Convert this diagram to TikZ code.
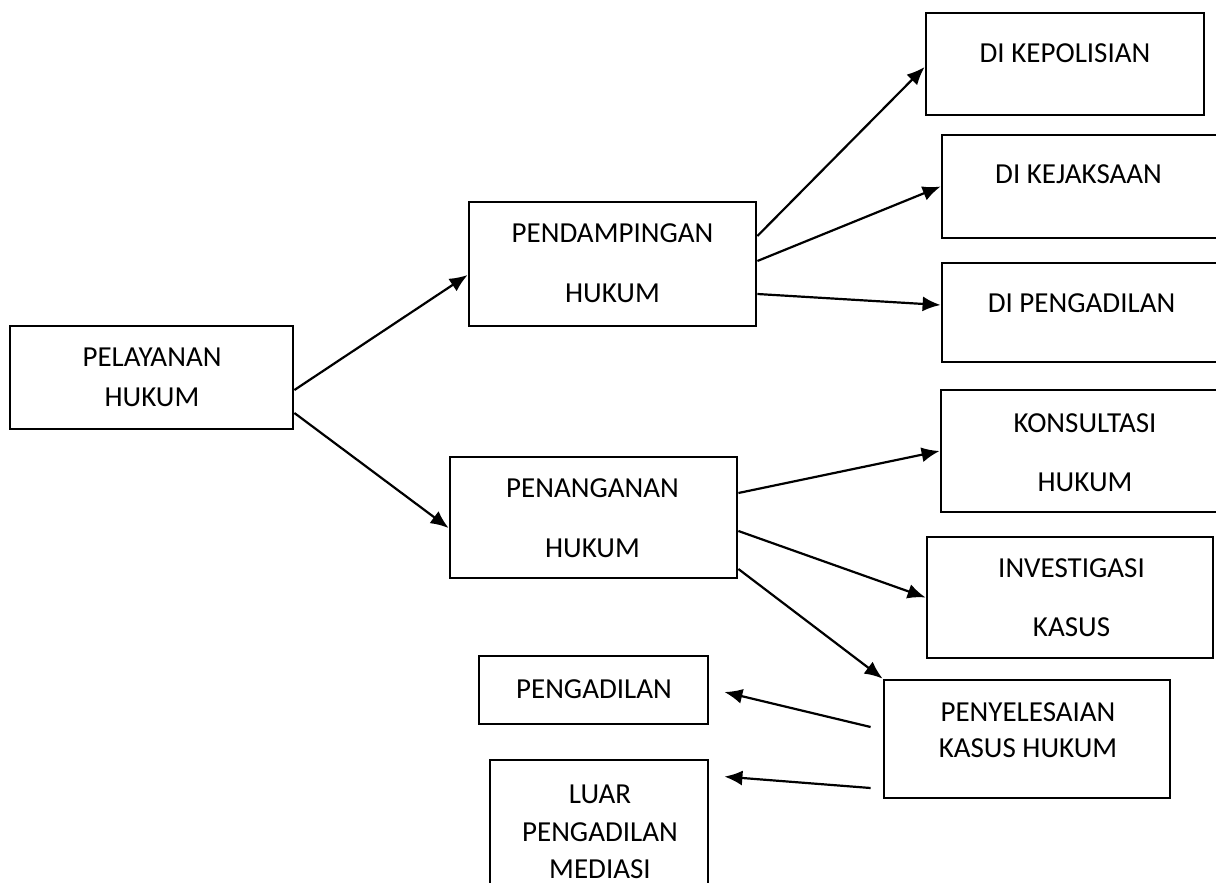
\documentclass[tikz,border=0pt]{standalone}
\usepackage{fontspec}
\setmainfont{Carlito}
\usepackage{tikz}
\usetikzlibrary{arrows.meta}
\tikzstyle{kotak} = [draw, rectangle, line width=1.4pt, inner sep=0pt]
\tikzstyle{teks} = [align=center, inner sep=0pt, font=\fontsize{14.5}{16}\selectfont]

\begin{document}
\begin{tikzpicture}[x=0.5pt,y=-0.5pt,line width=1.1pt,>={Latex[length=9pt,width=7.5pt]}]
    \useasboundingbox (0,0) rectangle (1216,883);
    % kotak
    \node[kotak, minimum width=141.5pt, minimum height=51.5pt] (pelayanan) at (151.5,377.5) {};
    \node[kotak, minimum width=143.5pt, minimum height=62pt] (pendampingan) at (612.5,264) {};
    \node[kotak, minimum width=139pt, minimum height=51pt] (polisi) at (1065,64) {};
    \node[kotak, minimum width=141.5pt, minimum height=51.5pt] (jaksa) at (1083.5,186.5) {};
    \node[kotak, minimum width=141.5pt, minimum height=49.5pt] (sidang) at (1083.5,312.5) {};
    \node[kotak, minimum width=143.5pt, minimum height=60.5pt] (penanganan) at (593.5,517.5) {};
    \node[kotak, minimum width=142pt, minimum height=61pt] (konsultasi) at (1083,451) {};
    \node[kotak, minimum width=143pt, minimum height=60.5pt] (investigasi) at (1070,597.5) {};
    \node[kotak, minimum width=143pt, minimum height=59pt] (selesai) at (1027,739) {};
    \node[kotak, minimum width=114.5pt, minimum height=34pt] (pengadilan) at (593.5,690) {};
    \node[kotak, minimum width=109pt, minimum height=75pt] (luar) at (599,835) {};
    % teks
    \node[teks] (pelayananT) at (152,377) {PELAYANAN\\[4pt]HUKUM};
    \node[teks] (pendampinganT) at (612.5,263) {PENDAMPINGAN\\[14pt]HUKUM};
    \node[teks] (polisiT) at (1065,53) {DI KEPOLISIAN};
    \node[teks] (jaksaT) at (1078.5,174) {DI KEJAKSAAN};
    \node[teks] (sidangT) at (1081.5,303) {DI PENGADILAN};
    \node[teks] (penangananT) at (592.5,518) {PENANGANAN\\[14pt]HUKUM};
    \node[teks] (konsultasiT) at (1085,452.5) {KONSULTASI\\[13.5pt]HUKUM};
    \node[teks] (investigasiT) at (1071.5,597.5) {INVESTIGASI\\[13.5pt]KASUS};
    \node[teks] (selesaiT) at (1028,730) {PENYELESAIAN\\[2pt]KASUS HUKUM};
    \node[teks] (pengadilanT) at (594,689) {PENGADILAN};
    \node[teks] (luarT) at (600,832) {LUAR\\[2.75pt]PENGADILAN\\[2.75pt]MEDIASI};
    % panah
    \draw[->] ([yshift=-6.25pt]pelayanan.east) -- ([yshift=-5.5pt]pendampingan.west);
    \draw[->] ([yshift=-17.75pt]pelayanan.east) -- ([yshift=-5.25pt]penanganan.west);
    \draw[->] ([yshift=14pt]pendampingan.east) -- ([yshift=-1.5pt]polisi.west);
    \draw[->] ([yshift=1.5pt]pendampingan.east) -- (jaksa.west);
    \draw[->] ([yshift=-15pt]pendampingan.east) -- ([yshift=3.75pt]sidang.west);
    \draw[->] ([yshift=12.25pt]penanganan.east) -- (konsultasi.west);
    \draw[->] ([yshift=-6.75pt]penanganan.east) -- (investigasi.west);
    \draw[->] ([yshift=-25.75pt]penanganan.east) -- (selesai.north west);
    \draw[->] ([xshift=-6pt,yshift=6pt]selesai.west) -- ([xshift=7.5pt,yshift=-1pt]pengadilan.east);
    \draw[->] ([xshift=-6pt,yshift=-24.5pt]selesai.west) -- ([xshift=7.5pt,yshift=-9pt]luar.north east);
\end{tikzpicture}
\end{document}
